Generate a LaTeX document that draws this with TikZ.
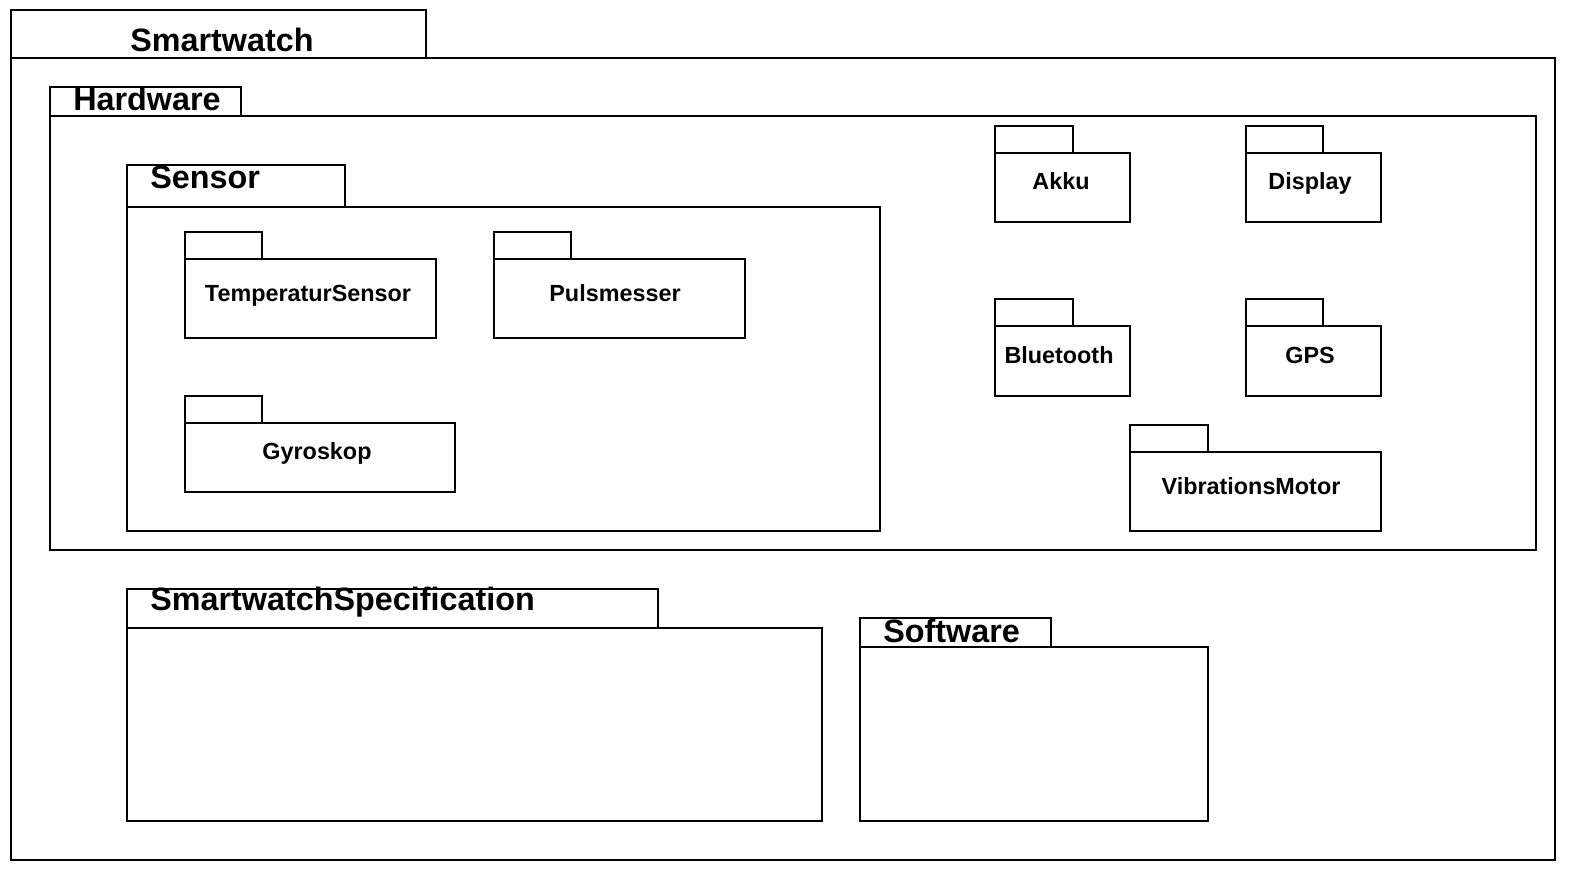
\documentclass[tikz,border=0pt]{standalone}
\usepackage{fontspec}
\setmainfont{Liberation Sans}
\tikzset{
  pkgline/.style={line width=1pt},
  bigname/.style={font=\fontsize{18.4}{22}\selectfont\bfseries, inner sep=0pt},
  smallname/.style={font=\fontsize{13.3}{15}\selectfont\bfseries, inner sep=0pt, anchor=base}
}
\begin{document}
\begin{tikzpicture}[x=0.02cm, y=-0.02cm]

  \useasboundingbox (0,0) rectangle (1572,876);

  % Smartwatch package
  \draw[pkgline] (11,10) rectangle (426,58);
  \draw[pkgline] (11,58) rectangle (1555,860);
  \node[bigname] (smartwatch) at (222,40) {Smartwatch};

  % Hardware package
  \draw[pkgline] (50,87) rectangle (241,116);
  \draw[pkgline] (50,116) rectangle (1536,550);
  \node[bigname, anchor=west] (hardware) at (73,99) {Hardware};

  % Sensor package
  \draw[pkgline] (127,165) rectangle (345,207);
  \draw[pkgline] (127,207) rectangle (880,531);
  \node[bigname, anchor=west] (sensor) at (150,177) {Sensor};

  % Sensor contents
  \draw[pkgline] (185,232) rectangle (262,259);
  \draw[pkgline] (185,259) rectangle (436,338);
  \node[smallname] (temp) at (308,301) {TemperaturSensor};

  \draw[pkgline] (494,232) rectangle (571,259);
  \draw[pkgline] (494,259) rectangle (745,338);
  \node[smallname] (puls) at (615,301) {Pulsmesser};

  \draw[pkgline] (185,396) rectangle (262,423);
  \draw[pkgline] (185,423) rectangle (455,492);
  \node[smallname] (gyro) at (317,459) {Gyroskop};

  % Other hardware
  \draw[pkgline] (995,126) rectangle (1073,153);
  \draw[pkgline] (995,153) rectangle (1130,222);
  \node[smallname] (akku) at (1061,189) {Akku};

  \draw[pkgline] (1246,126) rectangle (1323,153);
  \draw[pkgline] (1246,153) rectangle (1381,222);
  \node[smallname] (display) at (1310,189) {Display};

  \draw[pkgline] (995,299) rectangle (1073,326);
  \draw[pkgline] (995,326) rectangle (1130,396);
  \node[smallname] (bluetooth) at (1059,363) {Bluetooth};

  \draw[pkgline] (1246,299) rectangle (1323,326);
  \draw[pkgline] (1246,326) rectangle (1381,396);
  \node[smallname] (gps) at (1310,363) {GPS};

  \draw[pkgline] (1130,425) rectangle (1208,452);
  \draw[pkgline] (1130,452) rectangle (1381,531);
  \node[smallname] (vibration) at (1251,494) {VibrationsMotor};

  % SmartwatchSpecification package
  \draw[pkgline] (127,589) rectangle (658,628);
  \draw[pkgline] (127,628) rectangle (822,821);
  \node[bigname, anchor=west] (spec) at (150,602) {SmartwatchSpecification};

  % Software package
  \draw[pkgline] (860,618) rectangle (1051,647);
  \draw[pkgline] (860,647) rectangle (1208,821);
  \node[bigname, anchor=west] (software) at (883,631) {Software};
\end{tikzpicture}
\end{document}
